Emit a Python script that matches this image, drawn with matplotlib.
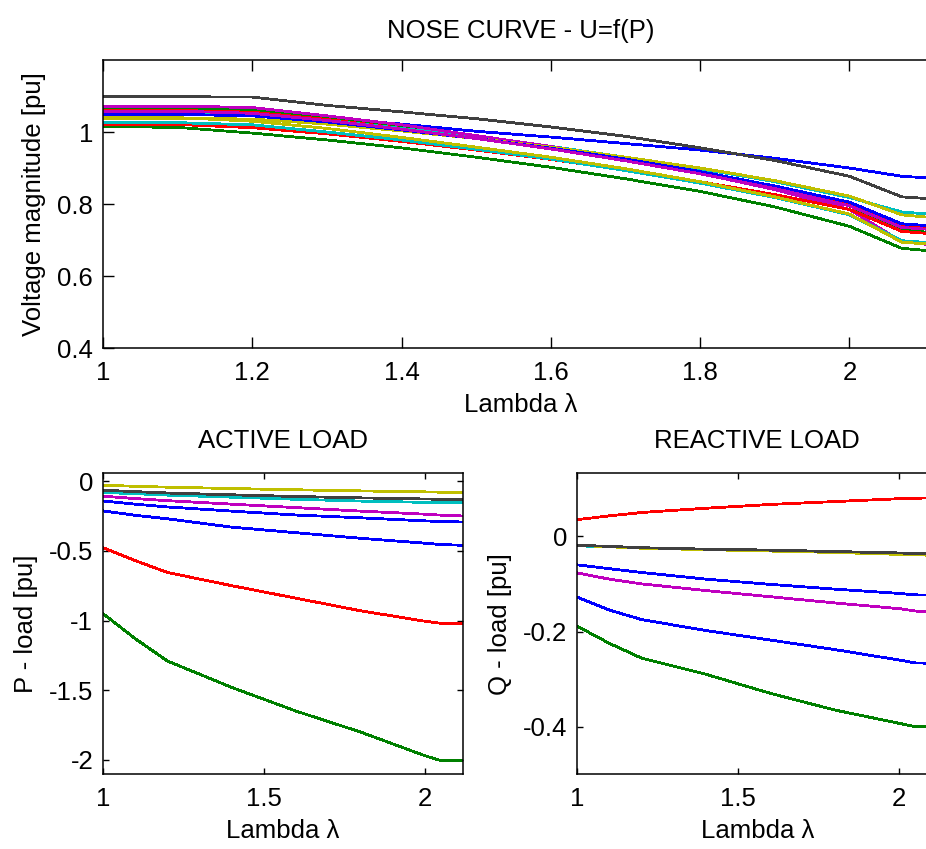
import matplotlib
matplotlib.use("Agg")
import matplotlib.pyplot as plt
from matplotlib.ticker import FormatStrFormatter

plt.rcParams['font.family'] = ['Liberation Sans', 'DejaVu Sans']
plt.rcParams['axes.unicode_minus'] = False

# matlab old colour order
colors = [(0, 0, 1), (0, 0.5, 0), (1, 0, 0), (0, 0.75, 0.75),
          (0.75, 0, 0.75), (0.75, 0.75, 0), (0.25, 0.25, 0.25)]

# nose curve - bus voltages
lam_top = [1.0, 1.1, 1.2, 1.3, 1.4, 1.5, 1.6, 1.7, 1.8, 1.9, 2.0, 2.07, 2.118]
v_bus = [
    [1.052, 1.052, 1.050, 1.038, 1.022, 1.002, 0.986, 0.968, 0.950, 0.927, 0.900, 0.877, 0.871],
    [1.066, 1.066, 1.060, 1.040, 1.015, 0.988, 0.958, 0.924, 0.888, 0.845, 0.795, 0.728, 0.719],
    [1.060, 1.060, 1.055, 1.035, 1.010, 0.985, 0.956, 0.922, 0.886, 0.846, 0.800, 0.742, 0.735],
    [1.055, 1.055, 1.050, 1.032, 1.010, 0.986, 0.960, 0.930, 0.898, 0.862, 0.818, 0.778, 0.770],
    [1.072, 1.072, 1.068, 1.045, 1.020, 0.990, 0.960, 0.925, 0.885, 0.840, 0.785, 0.695, 0.685],
    [1.038, 1.038, 1.036, 1.022, 1.003, 0.982, 0.958, 0.930, 0.900, 0.865, 0.822, 0.770, 0.761],
    [1.098, 1.098, 1.097, 1.074, 1.056, 1.037, 1.014, 0.988, 0.956, 0.921, 0.877, 0.820, 0.813],
    [1.049, 1.049, 1.045, 1.028, 1.006, 0.982, 0.955, 0.925, 0.890, 0.850, 0.805, 0.745, 0.738],
    [1.015, 1.013, 0.997, 0.978, 0.956, 0.930, 0.902, 0.870, 0.835, 0.792, 0.738, 0.677, 0.668],
    [1.021, 1.021, 1.012, 0.995, 0.974, 0.950, 0.924, 0.894, 0.862, 0.826, 0.785, 0.724, 0.716],
    [1.026, 1.026, 1.020, 1.000, 0.978, 0.952, 0.925, 0.893, 0.858, 0.818, 0.770, 0.698, 0.691],
    [1.058, 1.058, 1.052, 1.032, 1.008, 0.982, 0.953, 0.920, 0.884, 0.843, 0.795, 0.735, 0.728],
    [1.040, 1.040, 1.030, 1.010, 0.985, 0.958, 0.930, 0.898, 0.862, 0.820, 0.772, 0.694, 0.687],
]

# loads
lam_bot = [1.0, 1.1, 1.2, 1.4, 1.6, 1.8, 2.0, 2.05, 2.118]
p_load = [
    [-0.142, -0.165, -0.185, -0.215, -0.243, -0.263, -0.285, -0.290, -0.293],
    [-0.95, -1.13, -1.29, -1.48, -1.65, -1.80, -1.97, -2.005, -2.005],
    [-0.477, -0.57, -0.655, -0.75, -0.84, -0.93, -1.005, -1.02, -1.022],
    [-0.081, -0.09, -0.10, -0.115, -0.13, -0.143, -0.152, -0.155, -0.156],
    [-0.108, -0.125, -0.14, -0.165, -0.19, -0.215, -0.237, -0.244, -0.25],
    [-0.029, -0.037, -0.043, -0.053, -0.062, -0.07, -0.077, -0.079, -0.081],
    [-0.065, -0.075, -0.085, -0.098, -0.11, -0.12, -0.128, -0.13, -0.132],
    [-0.213, -0.245, -0.27, -0.33, -0.37, -0.41, -0.445, -0.455, -0.46],
]
q_load = [
    [-0.06, -0.068, -0.076, -0.09, -0.101, -0.111, -0.12, -0.123, -0.124],
    [-0.189, -0.225, -0.256, -0.29, -0.33, -0.365, -0.393, -0.40, -0.40],
    [0.035, 0.043, 0.05, 0.059, 0.067, 0.073, 0.079, 0.08, 0.081],
    [-0.02, -0.022, -0.025, -0.028, -0.03, -0.033, -0.035, -0.036, -0.037],
    [-0.077, -0.09, -0.10, -0.114, -0.127, -0.14, -0.152, -0.157, -0.16],
    [-0.019, -0.022, -0.025, -0.028, -0.031, -0.034, -0.038, -0.039, -0.04],
    [-0.019, -0.021, -0.024, -0.027, -0.029, -0.032, -0.035, -0.036, -0.036],
    [-0.128, -0.155, -0.175, -0.198, -0.218, -0.238, -0.26, -0.266, -0.267],
]

fs = 18.5
fig = plt.figure(figsize=(9.26, 8.49), dpi=100)
ax1 = fig.add_axes([0.1112, 0.5901, 0.9013, 0.3392])
ax2 = fig.add_axes([0.1112, 0.0880, 0.3888, 0.3543])
ax3 = fig.add_axes([0.6234, 0.0880, 0.3888, 0.3543])

def style(ax, ticklen):
    ax.tick_params(direction='in', top=True, right=True, length=ticklen,
                   width=1, labelsize=fs)
    ax.tick_params(axis='x', pad=9)
    ax.tick_params(axis='y', pad=7)
    for s in ax.spines.values():
        s.set_linewidth(1.1)
    ax.xaxis.set_major_formatter(FormatStrFormatter('%g'))
    ax.yaxis.set_major_formatter(FormatStrFormatter('%g'))

for i, v in enumerate(v_bus):
    ax1.plot(lam_top, v, color=colors[i % 7], lw=1.3, antialiased=False)
ax1.set_xlim(1, 2.118)
ax1.set_ylim(0.4, 1.2)
ax1.set_xticks([1, 1.2, 1.4, 1.6, 1.8, 2])
ax1.set_yticks([0.4, 0.6, 0.8, 1])
style(ax1, 8)
ax1.set_title('NOSE CURVE - U=f(P)', fontsize=fs, pad=16)
ax1.set_xlabel('Lambda λ', fontsize=fs, labelpad=6)
ax1.set_ylabel('Voltage magnitude [pu]', fontsize=fs, labelpad=8)

for i, p in enumerate(p_load):
    ax2.plot(lam_bot, p, color=colors[i % 7], lw=1.3, antialiased=False)
ax2.set_xlim(1, 2.118)
ax2.set_ylim(-2.103, 0.055)
ax2.set_xticks([1, 1.5, 2])
ax2.set_yticks([0, -0.5, -1, -1.5, -2])
style(ax2, 4)
ax2.set_title('ACTIVE LOAD', fontsize=fs, pad=18)
ax2.set_xlabel('Lambda λ', fontsize=fs, labelpad=6)
ax2.set_ylabel('P - load [pu]', fontsize=fs, labelpad=8)

for i, q in enumerate(q_load):
    ax3.plot(lam_bot, q, color=colors[i % 7], lw=1.3, antialiased=False)
ax3.set_xlim(1, 2.118)
ax3.set_ylim(-0.5, 0.132)
ax3.set_xticks([1, 1.5, 2])
ax3.set_yticks([0, -0.2, -0.4])
style(ax3, 4)
ax3.set_title('REACTIVE LOAD', fontsize=fs, pad=18)
ax3.set_xlabel('Lambda λ', fontsize=fs, labelpad=6)
ax3.set_ylabel('Q - load [pu]', fontsize=fs, labelpad=8)

fig.savefig('out.png', dpi=100)
